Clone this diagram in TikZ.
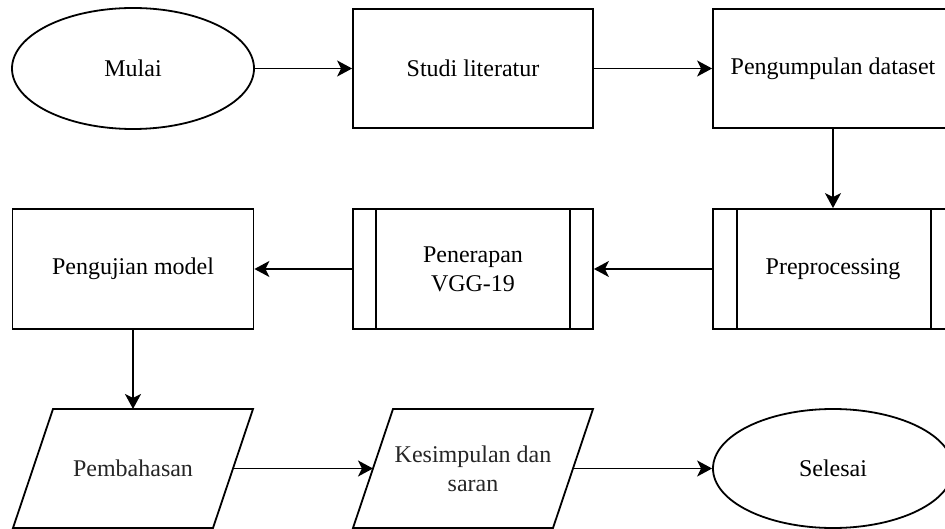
\documentclass[tikz,border=0pt]{standalone}
\usepackage{fontspec}
\setmainfont{Liberation Serif}
\usetikzlibrary{shapes.geometric,arrows.meta,calc}
\begin{document}
\begin{tikzpicture}[x=1pt,y=-1pt,
  every node/.style={font=\fontsize{24}{29}\selectfont, text=black!85},
  ln/.style={line width=1.8pt, black},
  box/.style={draw, ln, rectangle, minimum width=240pt, minimum height=120pt, inner sep=0pt, align=center},
  oval/.style={draw, ln, ellipse, minimum width=242pt, minimum height=121pt, inner sep=0pt},
  txt/.style={align=center, inner sep=0pt},
  arr/.style={ln, -{Stealth[length=15pt,width=16pt,inset=4pt]}}
]
\clip (0,0) rectangle (945,529);
\fill[white] (0,0) rectangle (945,529);

% row 1
\node[oval] (mulai) at (133,68.5) {Mulai};
\node[box, minimum height=119pt] (studi) at (473,68.5) {Studi literatur};
\node[box, minimum height=119pt] (kumpul) at (833,68.5) {Pengumpulan dataset};

% row 2
\node[box] (pre) at (833,269) {Preprocessing};
\draw[ln] ($(pre.north west)+(25,0)$) -- ($(pre.south west)+(25,0)$);
\draw[ln] ($(pre.north east)+(-23,0)$) -- ($(pre.south east)+(-23,0)$);
\node[box] (vgg) at (473,269) {Penerapan\\VGG-19};
\draw[ln] ($(vgg.north west)+(24,0)$) -- ($(vgg.south west)+(24,0)$);
\draw[ln] ($(vgg.north east)+(-24,0)$) -- ($(vgg.south east)+(-24,0)$);
\node[box, minimum width=241pt] (uji) at (133,269) {Pengujian model};

% row 3
\draw[ln, line join=miter] (53,409) -- (253,409) -- (213,528) -- (13,528) -- cycle;
\node[txt] (pb) at (133,468.5) {Pembahasan};
\coordinate (pbT) at (133,409);
\coordinate (pbR) at (233,468.5);
\draw[ln, line join=miter] (393,409) -- (593,409) -- (553,528) -- (353,528) -- cycle;
\node[txt] (ks) at (473,468.5) {Kesimpulan dan\\saran};
\coordinate (ksL) at (373,468.5);
\coordinate (ksR) at (573,468.5);
\node[oval, minimum width=240pt, minimum height=119pt] (sel) at (833,468.5) {Selesai};

% connectors
\draw[arr] (mulai.east) -- (studi.west);
\draw[arr] (studi.east) -- (kumpul.west);
\draw[arr] (kumpul.south) -- (pre.north);
\draw[arr] (pre.west) -- (vgg.east);
\draw[arr] (vgg.west) -- (uji.east);
\draw[arr] (uji.south) -- (pbT);
\draw[arr] (pbR) -- (ksL);
\draw[arr] (ksR) -- (sel.west);
\end{tikzpicture}
\end{document}
